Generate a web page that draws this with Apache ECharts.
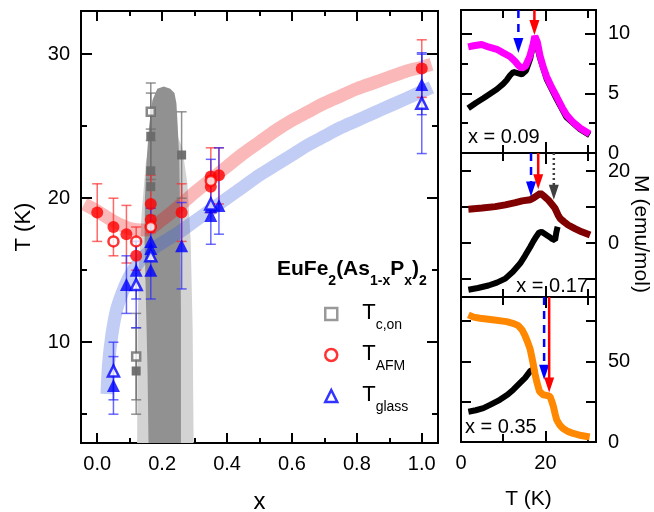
<!DOCTYPE html>
<html>
<head>
<meta charset="utf-8">
<script src="https://cdn.jsdelivr.net/npm/echarts@6/dist/echarts.min.js"></script>
<style>
  html, body { margin: 0; padding: 0; background: #fff; }
  #chart { width: 654px; height: 512px; }
</style>
</head>
<body>
<div id="chart"></div>
<script>
const FONT = "Liberation Sans, Arial, sans-serif";

// ---- main panel: phase diagram, [x, T] ----
const grayFilled = [[0.12, 8], [0.165, 24.3], [0.165, 21.9], [0.165, 20.8], [0.26, 23.0]];
const grayOpen = [[0.12, 9], [0.165, 26.0]];
const grayErr = [[0.12, 6, 12], [0.12, 5, 11], [0.165, 24, 28], [0.165, 21.3, 27.3], [0.165, 18.8, 24.8], [0.26, 20, 26]];

const redFilled = [[0, 19], [0.05, 18], [0.09, 17.5], [0.12, 16], [0.165, 19.6], [0.165, 18.5], [0.26, 19], [0.35, 20.8], [0.35, 21.5], [0.375, 21.6], [1.0, 29]];
const redOpen = [[0.05, 17], [0.12, 17], [0.165, 18], [0.35, 21.2]];
const redErr = [[0, 17, 21], [0.05, 16, 20], [0.09, 15.5, 19.5], [0.12, 15, 18], [0.165, 17.6, 21.6], [0.26, 17, 21], [0.35, 19, 23.5], [0.375, 19.6, 23.5], [1.0, 27, 31]];

const blueFilled = [[0.05, 7], [0.09, 14], [0.12, 15], [0.165, 17], [0.165, 16.5], [0.165, 15], [0.26, 16.7], [0.35, 19.4], [0.35, 18.8], [0.375, 19.5], [1.0, 27.9]];
const blueOpen = [[0.05, 8], [0.12, 14], [0.165, 16], [0.35, 19.6], [1.0, 26.6]];
const blueErr = [[0.05, 5, 9], [0.05, 6, 10], [0.09, 12, 16], [0.12, 13, 17], [0.12, 11, 17], [0.165, 13, 19.3], [0.26, 13.7, 19.7], [0.35, 16.8, 22.7], [0.375, 17.5, 23.5], [1.0, 25.8, 30], [1.0, 23.1, 30.1]];

// guide-to-the-eye bands
const redBand = [[-0.04, 19.6], [0, 19.1], [0.05, 18.4], [0.1, 17.9], [0.15, 17.8], [0.2, 18.5], [0.25, 19.4], [0.3, 20.4], [0.35, 21.3], [0.4, 22.2], [0.45, 23.1], [0.5, 23.9], [0.55, 24.7], [0.6, 25.4], [0.65, 26.0], [0.7, 26.6], [0.75, 27.1], [0.8, 27.6], [0.85, 28.0], [0.9, 28.4], [0.95, 28.8], [1.0, 29.1], [1.03, 29.3]];
const blueBand = [[0.03, 6.4], [0.035, 8.5], [0.045, 10.5], [0.06, 12.3], [0.08, 13.6], [0.1, 14.6], [0.13, 15.6], [0.16, 16.3], [0.2, 16.9], [0.25, 17.6], [0.3, 18.4], [0.35, 19.2], [0.4, 20.0], [0.45, 20.8], [0.5, 21.6], [0.55, 22.3], [0.6, 23.0], [0.65, 23.7], [0.7, 24.3], [0.75, 24.9], [0.8, 25.4], [0.85, 25.9], [0.9, 26.4], [0.95, 26.9], [1.0, 27.4], [1.03, 27.7]];

// superconducting dome outlines
const darkDome = [[0.158, 3], [0.155, 8], [0.15, 13], [0.146, 17], [0.147, 20], [0.152, 22.6], [0.16, 25], [0.17, 26.8], [0.185, 27.6], [0.205, 27.75], [0.225, 27.6], [0.238, 27.3], [0.244, 26.6], [0.248, 25], [0.253, 22.6], [0.256, 18], [0.258, 12], [0.258, 3]];
const lightDome = [[0.123, 3], [0.124, 10], [0.128, 15], [0.137, 19], [0.15, 22.5], [0.17, 24.5], [0.2, 25.5], [0.235, 25], [0.262, 23.5], [0.278, 21], [0.288, 17], [0.294, 11], [0.297, 3]];

const mainXMajor = [0, 0.2, 0.4, 0.6, 0.8, 1.0];
const mainXMinor = [0.1, 0.3, 0.5, 0.7, 0.9];
const mainYMajor = [10, 20, 30];
const mainYMinor = [5, 15, 25];

// ---- right panels: M(T), [T, M] ----
const magenta09 = [[1.7, 8.9], [3, 9.0], [4.9, 9.1], [6.5, 8.9], [8.5, 8.7], [10, 8.4], [11.6, 8.1], [12.8, 7.7], [13.6, 7.35], [14.4, 7.1], [15.3, 7.3], [16.3, 8.1], [17.1, 9.1], [17.5, 9.8], [18.1, 9.3], [18.7, 8.2], [19.5, 7.2], [20.3, 6.4], [21.5, 5.5], [22.7, 4.7], [24, 3.8], [25, 3.2], [26.5, 2.6], [28.2, 2.1], [30.5, 1.6]];
const black09 = [[1.7, 3.75], [3.5, 4.2], [5.3, 4.6], [7, 5.0], [8.5, 5.35], [10, 5.8], [10.8, 6.1], [11.6, 6.5], [12.4, 6.8], [13.4, 6.7], [14.4, 6.6], [15.4, 6.9], [16.4, 7.9], [17.2, 9.3], [17.6, 9.6], [18.7, 8.0], [20.3, 6.2], [22.7, 4.5], [25, 3.0], [28.2, 2.0], [30.5, 1.5]];
const darkred17 = [[1.75, 9.4], [5, 9.7], [8.1, 10.1], [10.5, 10.6], [12.9, 11.2], [14.5, 11.7], [16.4, 12.0], [17.3, 12.6], [18.8, 13.8], [19.8, 12.9], [20.7, 11.95], [21.5, 10.8], [22.3, 9.6], [23.0, 7.8], [23.5, 6.8], [24.4, 5.9], [25.4, 5.0], [27, 4.0], [28.6, 3.1], [30.6, 2.2]];
const black17 = [[1.75, -13.0], [4, -12.5], [6.5, -11.8], [8.5, -11.0], [10.5, -9.9], [12.3, -8.0], [14.0, -5.7], [15.2, -3.5], [16.4, -1.1], [17.2, 0.6], [17.9, 1.9], [18.5, 2.9], [19.1, 3.1], [19.9, 2.5], [20.7, 1.9], [21.5, 1.2], [22.3, 0.8], [22.6, 3.0], [22.9, 4.5]];
const orange35 = [[1.75, 78.9], [3, 77.5], [4.5, 76.8], [7, 76], [10.8, 74.7], [12.5, 73.5], [13.6, 72.2], [14.5, 69.5], [15.2, 65.9], [15.8, 62], [16.4, 57.6], [17, 50], [17.5, 42.9], [18, 37], [18.6, 31.4], [19.5, 29.3], [20.5, 28.8], [21.1, 28.2], [21.5, 25.5], [21.9, 22], [22.3, 17.5], [22.7, 13.6], [23.4, 10.5], [24.2, 8.4], [25.3, 6.6], [26.6, 5.3], [28.5, 4], [30.5, 3.1]];
const black35 = [[1.75, 18.8], [3.5, 19.7], [5.3, 21], [7, 23.2], [9.2, 26.2], [11, 29.3], [12.4, 32.5], [14, 36.7], [15.2, 39.8], [16.4, 44], [17, 45]];

// arrows: [T, M at start, M at tip]
const arrows09 = { blue: [[13.6, 12, 8.4]], red: [[17.4, 12, 9.9]], gray: [] };
const arrows17 = { blue: [[16.6, 25, 12.9]], red: [[18.3, 25, 14.9]], gray: [[22.0, 25, 12.0]] };
const arrows35 = { blue: [[19.7, 90, 38.7]], red: [[20.9, 90, 30.8]], gray: [] };

const panelTMajor = [20];
const panelTMinor = [10, 30];
const panelTLabels = [0, 20];
const p1Major = [0, 5, 10], p1Minor = [2.5, 7.5];
const p2Ticks = [-10, 0, 10, 20], p2Labels = [0, 20];
const p3Ticks = [25, 50, 75], p3Labels = [0, 50];

// ---- axes ----
const xAxes = [], yAxes = [];
function axis(grid, pos, min, max, ticks, len, labels, fmt) {
  return {
    type: "value", gridIndex: grid, position: pos, min: min, max: max,
    axisLine: { show: true, onZero: false, lineStyle: { color: "#000", width: 2 } },
    axisTick: { show: true, inside: true, length: len, customValues: ticks, lineStyle: { color: "#000", width: 2 } },
    axisLabel: labels
      ? { show: true, customValues: labels, fontSize: 20, color: "#000", fontFamily: FONT, margin: 11, formatter: fmt }
      : { show: false },
    splitLine: { show: false },
  };
}
function addX(a) { xAxes.push(a); return xAxes.length - 1; }
function addY(a) { yAxes.push(a); return yAxes.length - 1; }

// main panel
const mx = addX(Object.assign(axis(0, "bottom", -0.05, 1.05, mainXMajor, 10, mainXMajor, (v) => v.toFixed(1)), {
  name: "x", nameLocation: "middle", nameGap: 47, nameTextStyle: { fontSize: 24, color: "#000", fontFamily: FONT },
}));
addX(axis(0, "bottom", -0.05, 1.05, mainXMinor, 5));
addX(axis(0, "top", -0.05, 1.05, mainXMajor, 10));
addX(axis(0, "top", -0.05, 1.05, mainXMinor, 5));
const my = addY(Object.assign(axis(0, "left", 3, 33, mainYMajor, 11, mainYMajor), {
  name: "T (K)", nameLocation: "middle", nameGap: 46, nameTextStyle: { fontSize: 22, color: "#000", fontFamily: FONT },
}));
addY(axis(0, "left", 3, 33, mainYMinor, 6));
addY(axis(0, "right", 3, 33, mainYMajor, 11));
addY(axis(0, "right", 3, 33, mainYMinor, 6));

// right panels
const px = [], py = [];
[1, 2, 3].forEach((g) => {
  const bottomLabels = g === 3 ? panelTLabels : null;
  const bx = axis(g, "bottom", 0, 32, panelTMajor, 11, bottomLabels, (v) => String(v));
  if (g === 3) Object.assign(bx, { name: "T (K)", nameLocation: "middle", nameGap: 47, nameTextStyle: { fontSize: 21, color: "#000", fontFamily: FONT } });
  px.push(addX(bx));
  addX(axis(g, "bottom", 0, 32, panelTMinor, 8));
  addX(axis(g, "top", 0, 32, panelTMajor, 11));
  addX(axis(g, "top", 0, 32, panelTMinor, 8));
});
py.push(addY(axis(1, "left", 0, 12, p1Major, 11)));
addY(axis(1, "left", 0, 12, p1Minor, 7));
addY(axis(1, "right", 0, 12, p1Major, 11, p1Major));
addY(axis(1, "right", 0, 12, p1Minor, 7));
py.push(addY(axis(2, "left", -15, 25, p2Ticks, 10)));
addY(axis(2, "right", -15, 25, p2Ticks, 10, p2Labels));
py.push(addY(axis(3, "left", 0, 90, p3Ticks, 10)));
addY(axis(3, "right", 0, 90, p3Ticks, 10, p3Labels));
yAxes.forEach((a) => { if (a.position === "right" && a.axisLabel.show) a.axisLabel.margin = 12; });

// ---- renderers ----
function errRender(color) {
  return function (params, api) {
    const x = api.value(0);
    const a = api.coord([x, api.value(1)]);
    const b = api.coord([x, api.value(2)]);
    const w = 5;
    const st = { stroke: color, lineWidth: 1.5 };
    return {
      type: "group",
      children: [
        { type: "line", shape: { x1: a[0], y1: a[1], x2: b[0], y2: b[1] }, style: st },
        { type: "line", shape: { x1: a[0] - w, y1: a[1], x2: a[0] + w, y2: a[1] }, style: st },
        { type: "line", shape: { x1: b[0] - w, y1: b[1], x2: b[0] + w, y2: b[1] }, style: st },
      ],
    };
  };
}
function domeRender(outline, color) {
  return function (params, api) {
    return { type: "polygon", shape: { points: outline.map((p) => api.coord(p)) }, style: { fill: color } };
  };
}
function arrowRender(color, dash) {
  return function (params, api) {
    const t = api.value(0);
    const a = api.coord([t, api.value(1)]);
    const b = api.coord([t, api.value(2)]);
    const hl = 15, hw = 5;
    return {
      type: "group",
      children: [
        { type: "line", shape: { x1: a[0], y1: a[1], x2: b[0], y2: b[1] - hl + 2 }, style: { stroke: color, lineWidth: 2.5, lineDash: dash } },
        { type: "polygon", shape: { points: [[b[0], b[1]], [b[0] - hw, b[1] - hl], [b[0] + hw, b[1] - hl]] }, style: { fill: color } },
      ],
    };
  };
}

const series = [];
const onMain = { xAxisIndex: mx, yAxisIndex: my };
series.push(Object.assign({ type: "custom", z: 1, silent: true, data: [[0.2, 10]], renderItem: domeRender(lightDome, "#d3d3d3") }, onMain));
series.push(Object.assign({ type: "custom", z: 2, silent: true, data: [[0.2, 10]], renderItem: domeRender(darkDome, "#919191") }, onMain));
series.push(Object.assign({ type: "line", z: 3, silent: true, data: redBand, smooth: 0.3, showSymbol: false, lineStyle: { width: 13, color: "rgba(240,0,0,0.28)", cap: "butt", join: "round" } }, onMain));
series.push(Object.assign({ type: "line", z: 3, silent: true, data: blueBand, smooth: 0.3, showSymbol: false, lineStyle: { width: 13, color: "rgba(52,88,222,0.3)", cap: "butt", join: "round" } }, onMain));
series.push(Object.assign({ type: "custom", z: 4, silent: true, data: grayErr, renderItem: errRender("rgba(110,110,110,0.75)") }, onMain));
series.push(Object.assign({ type: "custom", z: 4, silent: true, data: redErr, renderItem: errRender("rgba(255,40,40,0.7)") }, onMain));
series.push(Object.assign({ type: "custom", z: 4, silent: true, data: blueErr, renderItem: errRender("rgba(40,40,255,0.7)") }, onMain));
series.push(Object.assign({ type: "scatter", z: 5, silent: true, data: grayFilled, symbol: "rect", symbolSize: 9, itemStyle: { color: "#6a6a6a", opacity: 0.95 } }, onMain));
series.push(Object.assign({ name: "Tc", type: "scatter", z: 5, silent: true, data: grayOpen, symbol: "rect", symbolSize: 8, itemStyle: { color: "#fff", borderColor: "#6a6a6a", borderWidth: 2.5 } }, onMain));
series.push(Object.assign({ type: "scatter", z: 6, silent: true, data: redFilled, symbol: "circle", symbolSize: 12, itemStyle: { color: "#ff0000" } }, onMain));
series.push(Object.assign({ name: "TAFM", type: "scatter", z: 6, silent: true, data: redOpen, symbol: "circle", symbolSize: 10, itemStyle: { color: "#fff", borderColor: "#ff0000", borderWidth: 2.5 } }, onMain));
series.push(Object.assign({ type: "scatter", z: 6, silent: true, data: blueFilled, symbol: "triangle", symbolSize: 13, itemStyle: { color: "#0000ff" } }, onMain));
series.push(Object.assign({ name: "Tglass", type: "scatter", z: 6, silent: true, data: blueOpen, symbol: "triangle", symbolSize: 11, itemStyle: { color: "#fff", borderColor: "#0000ff", borderWidth: 2.5 } }, onMain));

function panelLine(i, data, color, width, z) {
  return { type: "line", silent: true, z: z, xAxisIndex: px[i], yAxisIndex: py[i], data: data, showSymbol: false, lineStyle: { color: color, width: width } };
}
function panelArrows(i, arr) {
  const out = [];
  const styles = { blue: ["#0000ff", [8, 6]], red: ["#ff0000", null], gray: ["#404040", [2, 3]] };
  Object.keys(arr).forEach((k) => {
    if (!arr[k].length) return;
    out.push({ type: "custom", silent: true, z: 8, clip: false, xAxisIndex: px[i], yAxisIndex: py[i], data: arr[k], renderItem: arrowRender(styles[k][0], styles[k][1]) });
  });
  return out;
}
series.push(panelLine(0, black09, "#000", 6, 4), panelLine(0, magenta09, "#ff00ff", 7, 5));
series.push(panelLine(1, black17, "#000", 6, 4), panelLine(1, darkred17, "#800000", 7, 5));
series.push(panelLine(2, black35, "#000", 6, 4), panelLine(2, orange35, "#ff8800", 7, 5));
series.push(...panelArrows(0, arrows09), ...panelArrows(1, arrows17), ...panelArrows(2, arrows35));

const legendText = { Tc: "c,on", TAFM: "AFM", Tglass: "glass" };

const option = {
  animation: false,
  backgroundColor: "#fff",
  textStyle: { fontFamily: FONT },
  grid: [
    { left: 81, top: 11, width: 357, height: 432, outerBoundsMode: "none" },
    { left: 461, top: 10, width: 135, height: 143, outerBoundsMode: "none" },
    { left: 461, top: 153, width: 135, height: 144, outerBoundsMode: "none" },
    { left: 461, top: 297, width: 135, height: 145, outerBoundsMode: "none" },
  ],
  xAxis: xAxes,
  yAxis: yAxes,
  title: {
    left: 272, top: 254,
    text: "{b|EuFe}{s|2}{b|(As}{s|1-x}{b|P}{s|x}{b|)}{s|2}",
    textStyle: {
      rich: {
        b: { fontSize: 21, fontWeight: "bold", color: "#000", fontFamily: FONT, lineHeight: 24, verticalAlign: "top" },
        s: { fontSize: 14, fontWeight: "bold", color: "#000", fontFamily: FONT, lineHeight: 14, verticalAlign: "top", padding: [15, 0, 0, 0] },
      },
    },
  },
  legend: {
    orient: "vertical", left: 319, top: 297, itemWidth: 12, itemHeight: 12, itemGap: 11,
    selectedMode: false,
    data: [
      { name: "Tc", icon: "rect", itemStyle: { color: "#fff", borderColor: "#808080", borderWidth: 2.5 } },
      { name: "TAFM", icon: "circle", itemStyle: { color: "#fff", borderColor: "#ff0000", borderWidth: 2.5 } },
      { name: "Tglass", icon: "triangle", itemStyle: { color: "#fff", borderColor: "#0000ff", borderWidth: 2.5 } },
    ],
    formatter: (name) => "{t|T}{s|" + legendText[name] + "}",
    textStyle: {
      rich: {
        t: { fontSize: 22, color: "#000", fontFamily: FONT, lineHeight: 24, verticalAlign: "top", padding: [0, 0, 0, 20] },
        s: { fontSize: 14, color: "#000", fontFamily: FONT, lineHeight: 14, verticalAlign: "top", padding: [16, 0, 0, 0] },
      },
    },
  },
  graphic: [
    { type: "text", x: 641, y: 234, rotation: -Math.PI / 2, style: { text: "M (emu/mol)", font: "21px " + FONT, fill: "#000", align: "center", verticalAlign: "middle" } },
    { type: "text", x: 468, y: 137, style: { text: "x = 0.09", font: "20px " + FONT, fill: "#000", align: "left", verticalAlign: "middle" } },
    { type: "text", x: 588, y: 286, style: { text: "x = 0.17", font: "20px " + FONT, fill: "#000", align: "right", verticalAlign: "middle" } },
    { type: "text", x: 465, y: 427, style: { text: "x = 0.35", font: "20px " + FONT, fill: "#000", align: "left", verticalAlign: "middle" } },
  ],
  series: series,
};

const myChart = echarts.init(document.getElementById("chart"));
myChart.setOption(option);
</script>
</body>
</html>
